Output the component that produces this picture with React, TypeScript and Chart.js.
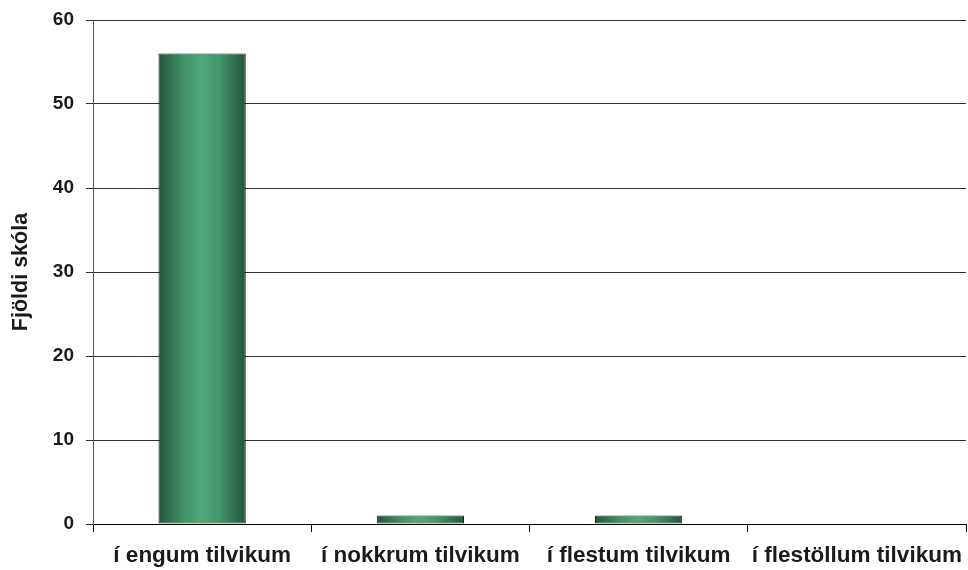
import React, { useEffect, useRef } from "react";
import { Chart, registerables } from "chart.js";

Chart.register(...registerables);

const categories = ["í engum tilvikum", "í nokkrum tilvikum", "í flestum tilvikum", "í flestöllum tilvikum"];
const values = [56, 1, 1, 0];
const yTicks = [0, 10, 20, 30, 40, 50, 60];
const yTitle = "Fjöldi skóla";

const FONT = "Arial, 'Liberation Sans', sans-serif";

export default function App() {
  const ref = useRef<HTMLCanvasElement>(null);
  useEffect(() => {
    document.body.style.margin = "0";
    const ctx = ref.current!.getContext("2d")!;
    const chart = new Chart(ctx, {
      type: "bar",
      data: {
        labels: categories,
        datasets: [
          {
            data: values,
            backgroundColor: (c: any) => {
              const ch = c.chart;
              const area = ch.chartArea;
              if (!area || c.dataIndex === undefined) return "#3f8a5f";
              const xs = ch.scales.x;
              const center = xs.getPixelForValue(c.dataIndex);
              const w = ((area.right - area.left) / categories.length) * 0.4;
              const g = ch.ctx.createLinearGradient(center - w / 2, 0, center + w / 2, 0);
              g.addColorStop(0, "#24543a");
              g.addColorStop(0.3, "#429668");
              g.addColorStop(0.5, "#4fa779");
              g.addColorStop(0.7, "#429668");
              g.addColorStop(1, "#24543a");
              return g;
            },
            borderColor: "#12291a",
            borderWidth: 1,
            borderSkipped: false,
            categoryPercentage: 1,
            barPercentage: 0.4,
          },
        ],
      },
      options: {
        responsive: false,
        animation: false,
        layout: { padding: { left: 8, right: 2, top: 20, bottom: 0 } },
        plugins: { legend: { display: false }, tooltip: { enabled: false } },
        scales: {
          x: {
            afterFit: (s: any) => {
              s.height = 46;
              s.paddingLeft = 0;
              s.paddingRight = 0;
            },
            grid: { display: true, drawOnChartArea: false, drawTicks: true, tickLength: 8, offset: true, color: "#000" },
            border: { display: true, color: "#000", width: 1 },
            ticks: {
              color: "#1a1a1a",
              font: { family: FONT, size: 22.5, weight: "bold" },
              maxRotation: 0,
              autoSkip: false,
              padding: 10,
            },
          },
          y: {
            min: 0,
            max: 60,
            afterFit: (s: any) => {
              s.width = 85;
              s.paddingTop = 0;
              s.paddingBottom = 0;
            },
            afterBuildTicks: (s: any) => {
              s.ticks = yTicks.map((v) => ({ value: v }));
            },
            grid: { color: "#333", tickLength: 7, lineWidth: 1 },
            border: { display: true, color: "#555", width: 1 },
            ticks: {
              color: "#1a1a1a",
              font: { family: FONT, size: 19, weight: "bold" },
              padding: 12,
            },
            title: {
              display: true,
              text: yTitle,
              color: "#1a1a1a",
              font: { family: FONT, size: 21.5, weight: "bold" },
              padding: { top: 0, bottom: 12 },
            },
          },
        },
      },
    } as any);
    return () => chart.destroy();
  }, []);
  return (
    <div style={{ position: "fixed", left: 0, top: 0, width: 968, height: 570, background: "#fff" }}>
      <canvas ref={ref} width={968} height={570} />
    </div>
  );
}
